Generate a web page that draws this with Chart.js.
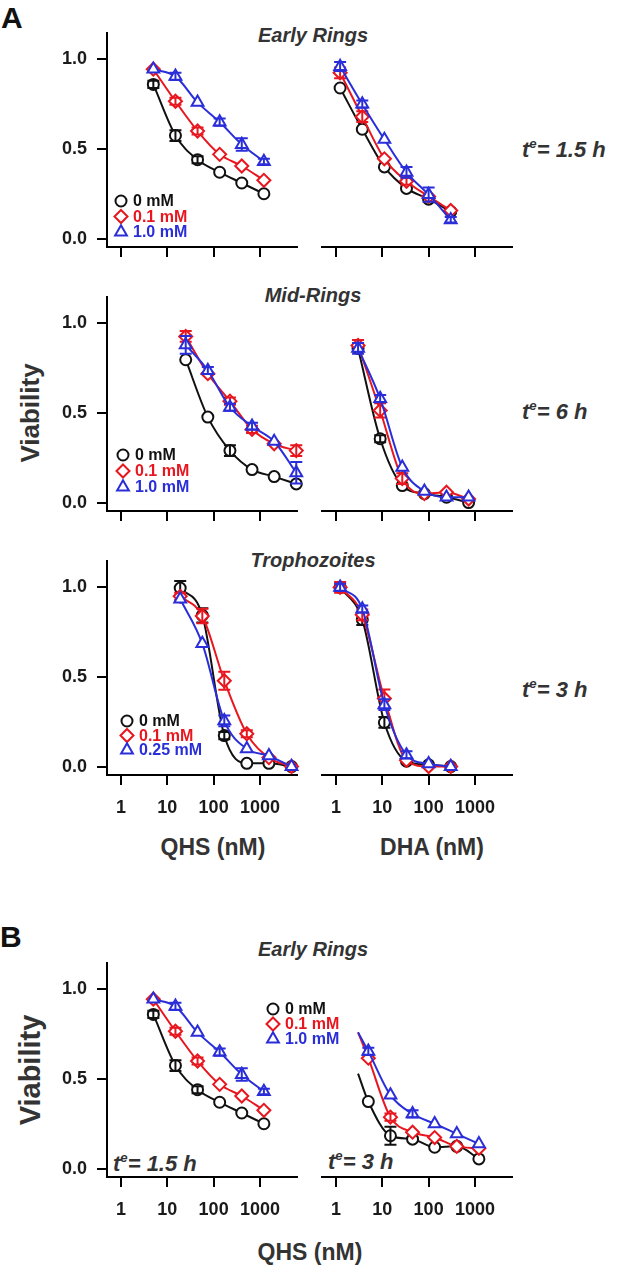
<!DOCTYPE html>
<html lang="en">
<head>
<meta charset="UTF-8">
<title>Viability curves</title>
<script src="https://cdn.jsdelivr.net/npm/chart.js"></script>
<style>
  body {
    margin: 0;
    width: 618px;
    height: 1268px;
    position: relative;
    overflow: hidden;
    background: #fff;
    font-family: "Liberation Sans", Arial, sans-serif;
  }
  canvas { position: absolute; }
  .lbl {
    position: absolute;
    white-space: nowrap;
    line-height: 1;
    font-weight: bold;
    color: #2a2a2a;
  }
  .c { transform: translate(-50%, -50%); }
  .l { transform: translateY(-50%); }
  .rot { transform: translate(-50%, -50%) rotate(-90deg); }
  .it { font-style: italic; color: #333; }
  sup { font-size: 60%; vertical-align: 0.65em; line-height: 0; }
</style>
</head>
<body>
<div class="lbl l" style="left:1px;top:18px;font-size:30px;color:#111">A</div>
<div class="lbl l" style="left:0px;top:937px;font-size:30px;color:#111">B</div>

<div class="lbl c it" style="left:313px;top:35px;font-size:20px">Early Rings</div>
<div class="lbl c it" style="left:313px;top:295px;font-size:20px">Mid-Rings</div>
<div class="lbl c it" style="left:313px;top:560px;font-size:20px">Trophozoites</div>
<div class="lbl c it" style="left:313px;top:949px;font-size:20px">Early Rings</div>

<div class="lbl l it" style="left:522px;top:150px;font-size:22px">t<sup>e</sup>= 1.5 h</div>
<div class="lbl l it" style="left:522px;top:412px;font-size:22px">t<sup>e</sup>= 6 h</div>
<div class="lbl l it" style="left:522px;top:690px;font-size:22px">t<sup>e</sup>= 3 h</div>
<div class="lbl l it" style="left:113px;top:1164px;font-size:22px">t<sup>e</sup>= 1.5 h</div>
<div class="lbl l it" style="left:328px;top:1162px;font-size:22px">t<sup>e</sup>= 3 h</div>

<div class="lbl rot" style="left:30px;top:413px;font-size:26px;color:#333">Viability</div>
<div class="lbl rot" style="left:30px;top:1070px;font-size:29px;color:#333">Viability</div>

<div class="lbl c" style="left:213px;top:847px;font-size:23px;color:#333">QHS (nM)</div>
<div class="lbl c" style="left:432px;top:847px;font-size:23px;color:#333">DHA (nM)</div>
<div class="lbl c" style="left:310px;top:1252px;font-size:23px;color:#333">QHS (nM)</div>

<script>
// concentrations (nM)
const qhsEarlyX = [5, 15, 45, 135, 405, 1215];
const dhaEarlyX = [1.23, 3.7, 11.1, 33.3, 100, 300];
const qhsMidX = [25, 75, 225, 675, 2025, 6075];
const dhaMidX = [3, 9, 27, 81, 243, 729];
const qhsTrophX = [19, 57, 170, 520, 1560, 4800];
const dhaTrophX = [1.23, 3.7, 11.1, 33.3, 100, 300];

const xTicks = [1, 10, 100, 1000];
const yTicks = [0, 0.5, 1.0];

const legendEarly = ['0 mM', '0.1 mM', '1.0 mM'];
const legendTroph = ['0 mM', '0.1 mM', '0.25 mM'];

// Early rings, QHS, te = 1.5 h
const erQhs0 = [0.86, 0.575, 0.44, 0.37, 0.31, 0.25];
const erQhs01 = [0.945, 0.766, 0.60, 0.47, 0.405, 0.325];
const erQhs1 = [0.945, 0.905, 0.76, 0.65, 0.525, 0.43];
const erQhs0Err = [0.02, 0.03, 0.02, 0, 0, 0];
const erQhs01Err = [0, 0.02, 0.02, 0, 0, 0];
const erQhs1Err = [0, 0.02, 0, 0.02, 0.035, 0.015];

// Early rings, DHA, te = 1.5 h
const erDha0 = [0.84, 0.61, 0.40, 0.28, 0.22, 0.15];
const erDha01 = [0.925, 0.68, 0.445, 0.32, 0.235, 0.157];
const erDha1 = [0.96, 0.75, 0.553, 0.37, 0.245, 0.105];
const erDha0Err = [0, 0, 0, 0, 0, 0];
const erDha01Err = [0.03, 0.03, 0, 0.02, 0, 0];
const erDha1Err = [0.025, 0.02, 0, 0.03, 0.04, 0.015];

// Mid rings, QHS, te = 6 h
const mrQhs0 = [0.797, 0.477, 0.29, 0.184, 0.145, 0.104];
const mrQhs01 = [0.927, 0.719, 0.566, 0.408, 0.328, 0.29];
const mrQhs1 = [0.88, 0.737, 0.532, 0.426, 0.341, 0.166];
const mrQhs0Err = [0, 0, 0.03, 0, 0, 0];
const mrQhs01Err = [0.03, 0, 0.02, 0.02, 0, 0.03];
const mrQhs1Err = [0.05, 0.02, 0.02, 0.02, 0, 0.06];

// Mid rings, DHA, te = 6 h
const mrDha0 = [0.86, 0.356, 0.095, 0.05, 0.03, 0.0];
const mrDha01 = [0.877, 0.514, 0.134, 0.05, 0.058, 0.02];
const mrDha1 = [0.86, 0.58, 0.197, 0.063, 0.03, 0.03];
const mrDha0Err = [0, 0.02, 0, 0, 0, 0];
const mrDha01Err = [0.03, 0.04, 0.03, 0, 0, 0];
const mrDha1Err = [0.03, 0.02, 0, 0, 0, 0];

// Trophozoites, QHS, te = 3 h
const trQhs0 = [0.996, 0.844, 0.173, 0.018, 0.018, 0.0];
const trQhs01 = [0.95, 0.84, 0.479, 0.183, 0.05, 0.0];
const trQhs025 = [0.935, 0.686, 0.255, 0.099, 0.06, 0.0];
const trQhs0Err = [0.04, 0.04, 0.02, 0, 0, 0];
const trQhs01Err = [0.02, 0.04, 0.05, 0.02, 0, 0];
const trQhs025Err = [0, 0, 0.03, 0, 0, 0];

// Trophozoites, DHA, te = 3 h
const trDha0 = [1.0, 0.82, 0.246, 0.03, 0.01, 0.0];
const trDha01 = [1.0, 0.847, 0.38, 0.035, 0.0, 0.0];
const trDha025 = [1.0, 0.879, 0.345, 0.065, 0.015, 0.0];
const trDha0Err = [0, 0.03, 0.03, 0, 0, 0];
const trDha01Err = [0.03, 0.03, 0.05, 0, 0, 0];
const trDha025Err = [0.02, 0.02, 0.03, 0.02, 0, 0];

// Early rings, QHS, te = 3 h (panel B right); the fit starts left of the first point
const er3Qhs0 = [0.374, 0.183, 0.164, 0.119, 0.124, 0.054];
const er3Qhs01 = [0.616, 0.287, 0.203, 0.173, 0.124, 0.113];
const er3Qhs1 = [0.654, 0.41, 0.305, 0.25, 0.194, 0.138];
const er3Qhs0Err = [0, 0.05, 0, 0, 0, 0];
const er3Qhs01Err = [0, 0.02, 0, 0, 0, 0];
const er3Qhs1Err = [0.02, 0, 0.02, 0, 0, 0];
const er3FitX = 3;
const er3FitStart = [0.53, 0.76, 0.76];

const colors = ['#111111', '#e8161e', '#2a2ed8'];
const marks = ['circle', 'rectRot', 'triangle'];
const markSize = { circle: 5.5, rectRot: 6.5, triangle: 6.8 };
const FONT = '"Liberation Sans", Arial, sans-serif';

function drawMark(ctx, style, x, y, r) {
    ctx.beginPath();
    if (style === 'circle') {
        ctx.arc(x, y, r, 0, Math.PI * 2);
    } else if (style === 'rectRot') {
        ctx.moveTo(x, y - r); ctx.lineTo(x + r, y); ctx.lineTo(x, y + r); ctx.lineTo(x - r, y);
    } else {
        ctx.moveTo(x, y - r); ctx.lineTo(x + 0.866 * r, y + 0.5 * r); ctx.lineTo(x - 0.866 * r, y + 0.5 * r);
    }
    ctx.closePath();
    ctx.fill();
    ctx.stroke();
}

// vertical error bars with caps, drawn right after each dataset
const errorBars = {
    id: 'errorBars',
    afterDatasetDraw(chart, args) {
        const ds = chart.data.datasets[args.index];
        const xs = chart.scales.x, ys = chart.scales.y, ctx = chart.ctx;
        ctx.save();
        ctx.strokeStyle = ds.borderColor;
        ctx.lineWidth = 2;
        ds.data.forEach(p => {
            if (!p.e) return;
            const px = xs.getPixelForValue(p.x);
            const lo = ys.getPixelForValue(p.y - p.e), hi = ys.getPixelForValue(p.y + p.e);
            ctx.beginPath();
            ctx.moveTo(px, lo); ctx.lineTo(px, hi);
            ctx.moveTo(px - 6, lo); ctx.lineTo(px + 6, lo);
            ctx.moveTo(px - 6, hi); ctx.lineTo(px + 6, hi);
            ctx.stroke();
        });
        ctx.restore();
    }
};

// small legend placed relative to the plot area
const markLegend = {
    id: 'markLegend',
    afterDraw(chart, args, o) {
        if (!o || !o.names) return;
        const ctx = chart.ctx, a = chart.chartArea;
        o.names.forEach((name, i) => {
            const ds = chart.data.datasets[i];
            const x = a.left + o.dx, y = a.top + o.dy + i * o.gap;
            ctx.save();
            ctx.lineWidth = 2;
            ctx.strokeStyle = ds.borderColor;
            ctx.fillStyle = '#fff';
            drawMark(ctx, ds.pointStyle, x, y, markSize[ds.pointStyle]);
            ctx.fillStyle = ds.borderColor;
            ctx.font = 'bold 16px ' + FONT;
            ctx.textBaseline = 'middle';
            ctx.fillText(name, x + 12, y + 1);
            ctx.restore();
        });
    }
};

function makePanel(p) {
    const padTop = 24, xh = p.labels ? 46 : 12, padBottom = p.labels ? 4 : 14;
    const isLeft = p.side === 'left';
    // right-hand canvases start further left so a legend can sit between the panels
    const padLeft = isLeft ? 0 : 72;
    const cv = document.createElement('canvas');
    cv.width = isLeft ? 312 : 272;
    cv.height = padTop + 214 + xh + padBottom;
    cv.style.left = (isLeft ? 0 : 250) + 'px';
    cv.style.top = (p.top - padTop) + 'px';
    document.body.appendChild(cv);

    const datasets = p.ys.map((ys, k) => {
        const data = p.x.map((x, i) => ({ x: x, y: ys[i], e: p.es[k][i] }));
        if (p.lead) data.unshift({ x: p.lead.x, y: p.lead.y[k], lead: true });
        const r = markSize[marks[k]];
        return {
            data: data,
            borderColor: colors[k],
            borderWidth: 2,
            pointStyle: marks[k],
            pointBorderColor: colors[k],
            pointBackgroundColor: '#fff',
            pointBorderWidth: 2,
            pointRadius: c => (c.raw && c.raw.lead) ? 0 : r,
            pointHoverRadius: r,
            cubicInterpolationMode: 'monotone',
            fill: false,
            clip: false,
            order: 3 - k
        };
    });

    const noPad = s => { s.paddingTop = 0; s.paddingBottom = 0; s.paddingLeft = 0; s.paddingRight = 0; };

    new Chart(cv, {
        type: 'line',
        data: { datasets: datasets },
        options: {
            responsive: false,
            animation: false,
            devicePixelRatio: 1,
            parsing: false,
            layout: { padding: { left: padLeft, right: isLeft ? 15 : 10, top: padTop, bottom: padBottom } },
            plugins: {
                legend: { display: false },
                tooltip: { enabled: false },
                markLegend: p.legend || {}
            },
            scales: {
                x: {
                    type: 'logarithmic',
                    min: 0.5,
                    max: 6300,
                    border: { display: true, color: '#000', width: 2 },
                    grid: { drawOnChartArea: false, drawTicks: true, tickLength: 10, color: '#000', lineWidth: 2 },
                    ticks: {
                        display: p.labels,
                        autoSkip: false,
                        maxRotation: 0,
                        padding: 12,
                        color: '#1a1a1a',
                        font: { family: FONT, size: 18, weight: 'bold' },
                        callback: v => String(v)
                    },
                    afterBuildTicks: s => { s.ticks = xTicks.map(v => ({ value: v })); },
                    afterFit: s => { s.height = xh; noPad(s); }
                },
                y: {
                    display: isLeft,
                    min: -0.047,
                    max: 1.147,
                    border: { display: true, color: '#000', width: 2 },
                    grid: { drawOnChartArea: false, drawTicks: true, tickLength: 10, color: '#000', lineWidth: 2 },
                    ticks: {
                        padding: 10,
                        color: '#1a1a1a',
                        font: { family: FONT, size: 18, weight: 'bold' },
                        callback: v => Number(v).toFixed(1)
                    },
                    afterBuildTicks: s => { s.ticks = yTicks.map(v => ({ value: v })); },
                    afterFit: s => { s.width = isLeft ? 107 : 0; noPad(s); }
                }
            }
        },
        plugins: [errorBars, markLegend]
    });
}

makePanel({ side: 'left', top: 33, labels: false, x: qhsEarlyX,
    ys: [erQhs0, erQhs01, erQhs1], es: [erQhs0Err, erQhs01Err, erQhs1Err],
    legend: { names: legendEarly, dx: 14, dy: 168, gap: 15.5 } });
makePanel({ side: 'right', top: 33, labels: false, x: dhaEarlyX,
    ys: [erDha0, erDha01, erDha1], es: [erDha0Err, erDha01Err, erDha1Err] });

makePanel({ side: 'left', top: 297, labels: false, x: qhsMidX,
    ys: [mrQhs0, mrQhs01, mrQhs1], es: [mrQhs0Err, mrQhs01Err, mrQhs1Err],
    legend: { names: legendEarly, dx: 16, dy: 158, gap: 16 } });
makePanel({ side: 'right', top: 297, labels: false, x: dhaMidX,
    ys: [mrDha0, mrDha01, mrDha1], es: [mrDha0Err, mrDha01Err, mrDha1Err] });

makePanel({ side: 'left', top: 561, labels: true, x: qhsTrophX,
    ys: [trQhs0, trQhs01, trQhs025], es: [trQhs0Err, trQhs01Err, trQhs025Err],
    legend: { names: legendTroph, dx: 20, dy: 160, gap: 14.5 } });
makePanel({ side: 'right', top: 561, labels: true, x: dhaTrophX,
    ys: [trDha0, trDha01, trDha025], es: [trDha0Err, trDha01Err, trDha025Err] });

makePanel({ side: 'left', top: 963, labels: true, x: qhsEarlyX,
    ys: [erQhs0, erQhs01, erQhs1], es: [erQhs0Err, erQhs01Err, erQhs1Err] });
makePanel({ side: 'right', top: 963, labels: true, x: qhsEarlyX,
    ys: [er3Qhs0, er3Qhs01, er3Qhs1], es: [er3Qhs0Err, er3Qhs01Err, er3Qhs1Err],
    lead: { x: er3FitX, y: er3FitStart },
    legend: { names: legendEarly, dx: -49, dy: 46, gap: 15 } });
</script>
</body>
</html>
